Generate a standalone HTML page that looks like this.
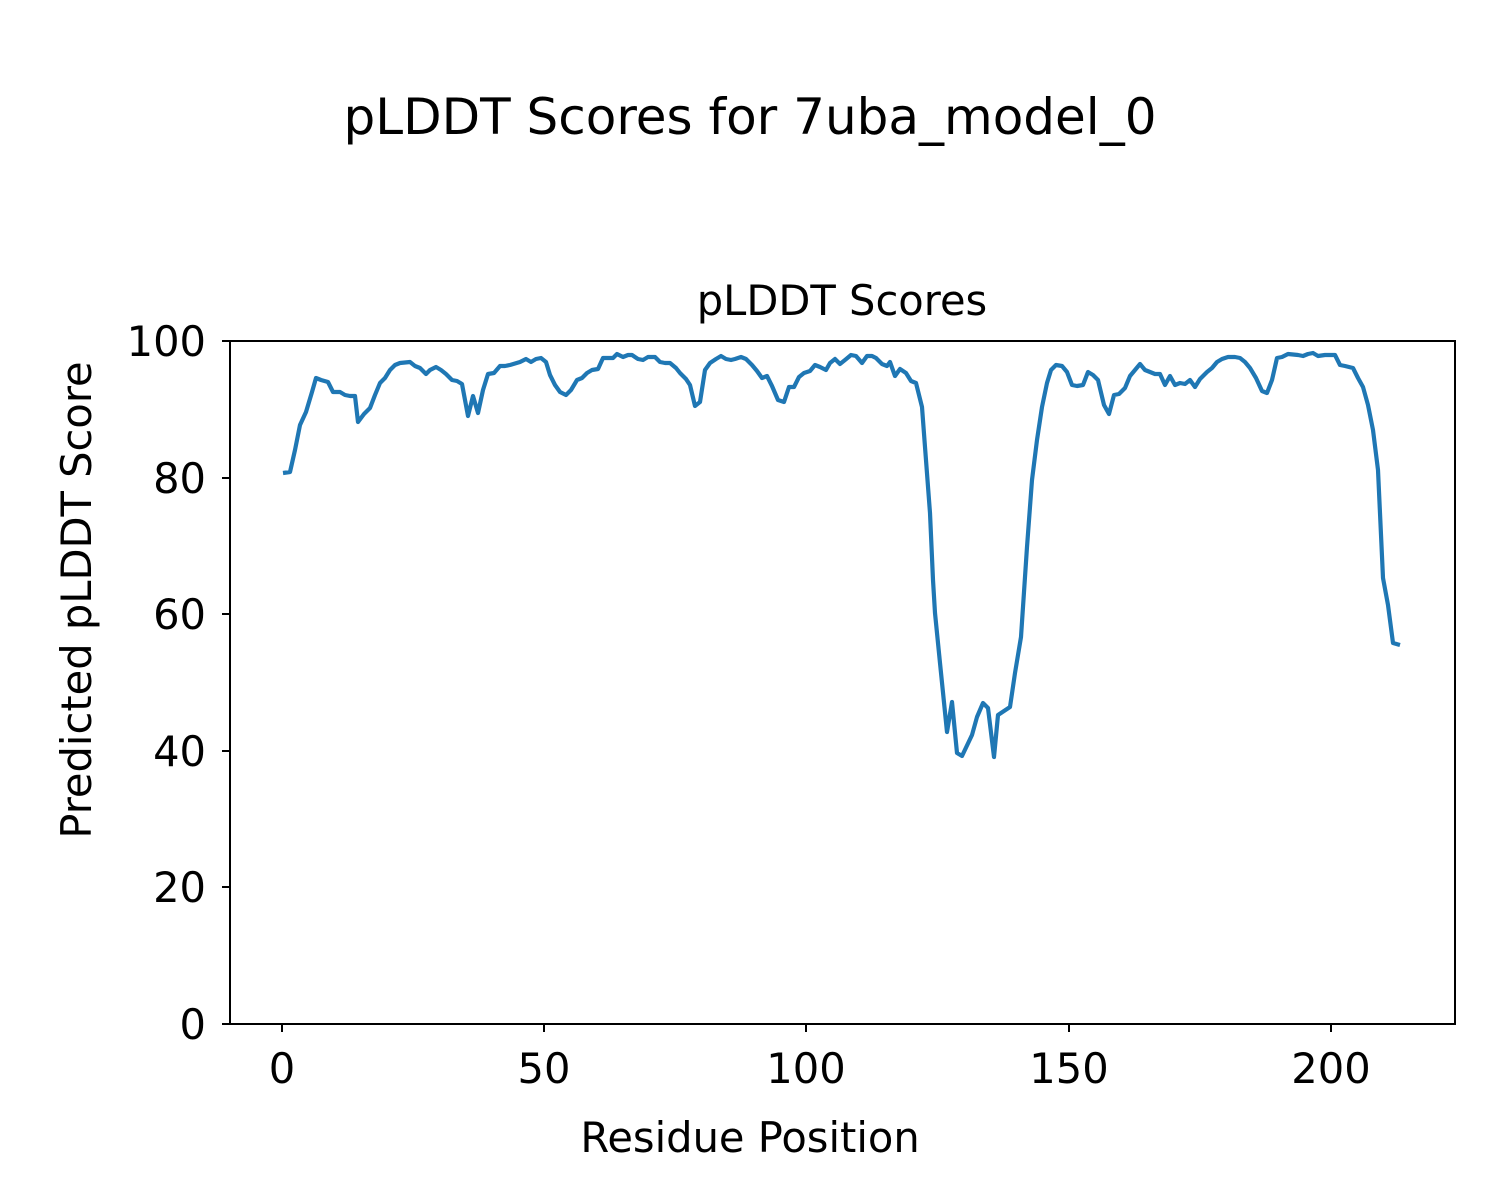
<!DOCTYPE html>
<html><head><meta charset="utf-8"><style>html,body{margin:0;padding:0;background:#fff}svg{display:block}text{font-family:"DejaVu Sans","Liberation Sans",sans-serif;fill:#000}</style></head>
<body>
<svg width="1500" height="1200" viewBox="0 0 1500 1200" xmlns="http://www.w3.org/2000/svg">
<text x="750" y="134" font-size="50" text-anchor="middle">pLDDT Scores for 7uba_model_0</text>
<text x="842" y="315" font-size="41.6" text-anchor="middle">pLDDT Scores</text>
<polyline fill="none" stroke="#1f77b4" stroke-width="4.2" stroke-linejoin="round" points="283,473 290,472 295,450 300,425 306,412 312,392 316,378 321,380 328,382 333,392 340,392 345,395 350,396 355,396 358,422 364,414 370,408 375,395 380,383 385,378 390,370 395,365 400,363 410,362 415,366 420,368 426,374 430,370 436,367 441,370 446,374 452,380 457,381 462,384 468,416 473,396 478,413 483,390 488,374 494,373 500,366 505,366 510,365 520,362 526,359 531,362 536,359 541,358 546,362 550,375 555,385 560,392 566,395 571,390 577,380 582,378 587,373 592,370 598,369 603,358 608,358 613,358 617,354 623,357 628,355 632,355 638,359 643,360 648,357 655,357 660,362 665,363 670,363 676,368 680,373 686,379 690,385 695,406 700,402 705,370 710,363 716,359 721,356 726,359 731,360 735,359 741,357 746,359 752,365 757,371 762,378 767,376 772,386 778,400 784,402 789,387 794,387 799,377 804,373 810,371 815,365 820,367 826,370 830,363 835,359 840,364 845,360 851,355 856,356 862,363 867,356 872,356 876,358 882,364 887,366 890,362 895,376 900,369 906,373 911,381 916,383 922,407 925,447 930,513 933,580 935,613 940,663 947,732 952,702 957,753 962,756 972,735 977,717 983,703 988,708 994,757 998,715 1010,707 1015,673 1021,637 1027,547 1032,480 1037,440 1042,407 1047,383 1051,370 1056,365 1062,366 1067,372 1072,385 1077,386 1083,385 1088,372 1093,375 1098,380 1104,405 1109,414 1114,395 1119,394 1125,388 1130,376 1135,370 1140,364 1145,370 1150,372 1155,374 1160,374 1165,385 1170,376 1175,385 1180,383 1185,384 1190,380 1195,387 1200,379 1207,372 1212,368 1217,362 1222,359 1228,357 1235,357 1240,358 1245,362 1250,368 1256,378 1262,391 1267,393 1272,380 1277,358 1282,357 1288,354 1298,355 1303,356 1308,354 1313,353 1318,356 1325,355 1335,355 1340,365 1345,366 1353,368 1358,378 1363,387 1368,405 1373,430 1378,470 1383,578 1388,605 1393,643 1400,645"/>
<rect x="230" y="341" width="1225" height="683" fill="none" stroke="#000" stroke-width="2"/>
<g stroke="#000" stroke-width="2">
<line x1="282" y1="1024" x2="282" y2="1032"/><line x1="544" y1="1024" x2="544" y2="1032"/><line x1="806" y1="1024" x2="806" y2="1032"/><line x1="1069" y1="1024" x2="1069" y2="1032"/><line x1="1331" y1="1024" x2="1331" y2="1032"/>
<line x1="222" y1="1024" x2="230" y2="1024"/><line x1="222" y1="887" x2="230" y2="887"/><line x1="222" y1="751" x2="230" y2="751"/><line x1="222" y1="614" x2="230" y2="614"/><line x1="222" y1="478" x2="230" y2="478"/><line x1="222" y1="341" x2="230" y2="341"/>
</g>
<g font-size="41.6" text-anchor="middle">
<text x="282" y="1083">0</text><text x="544" y="1083">50</text><text x="806" y="1083">100</text><text x="1069" y="1083">150</text><text x="1331" y="1083">200</text>
</g>
<g font-size="41.6" text-anchor="end">
<text x="206" y="1039">0</text><text x="206" y="902">20</text><text x="206" y="766">40</text><text x="206" y="629">60</text><text x="206" y="493">80</text><text x="206" y="356">100</text>
</g>
<text x="750" y="1152" font-size="41.6" text-anchor="middle">Residue Position</text>
<text transform="translate(91,600) rotate(-90)" font-size="41.6" text-anchor="middle">Predicted pLDDT Score</text>
</svg>
</body></html>
